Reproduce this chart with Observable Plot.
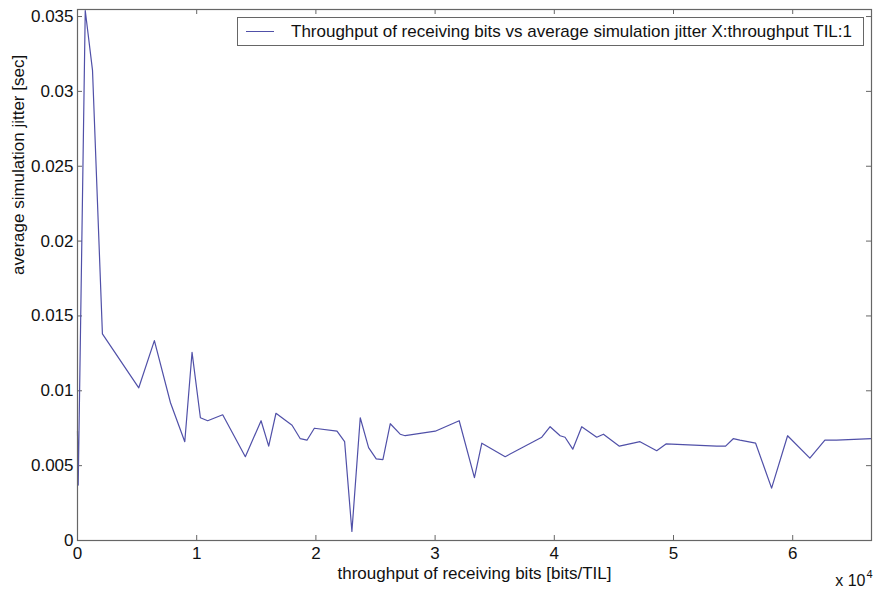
<!DOCTYPE html>
<html>
<head>
<meta charset="utf-8">
<script src="https://cdn.jsdelivr.net/npm/d3@7"></script>
<script src="https://cdn.jsdelivr.net/npm/@observablehq/plot@0.6"></script>
<style>
  html, body { margin: 0; padding: 0; background: #fff; }
  #wrap { position: relative; width: 875px; height: 595px; font-family: "Liberation Sans", Arial, Helvetica, sans-serif; }
  #legend { position: absolute; left: 237px; top: 17px; width: 627px; height: 29px; border: 1px solid #666; background: #fff; box-sizing: border-box; display: flex; align-items: center; font-size: 17px; color: #111; white-space: nowrap; }
  #legend .sw { display: inline-block; width: 28px; height: 0; border-top: 1.3px solid #5050a8; margin-left: 8px; margin-right: 17px; }
</style>
</head>
<body>
<div id="wrap"><div id="legend"><span class="sw"></span><span>Throughput of receiving bits vs average simulation jitter X:throughput TIL:1</span></div></div>
<script>
// Data
const throughput = [0, 60, 650, 1260, 2090, 5140, 6450, 7800, 9000, 9610, 10310, 10920, 12180, 14080, 15400, 16040, 16650, 18000, 18690, 19250, 19870, 21770, 22410, 23020, 23720, 24420, 25060, 25620, 26240, 27070, 27490, 30010, 32020, 33300, 33920, 35880, 38950, 39650, 40490, 40900, 41550, 42300, 43560, 44120, 45460, 47190, 48590, 49370, 53620, 54370, 55010, 55570, 56890, 58230, 59570, 61440, 62700, 63680, 66610];
const jitter = [0.0073, 0.0037, 0.0354, 0.0314, 0.0138, 0.0102, 0.01335, 0.0092, 0.0066, 0.01257, 0.0082, 0.0080, 0.0084, 0.0056, 0.0080, 0.0063, 0.0085, 0.0077, 0.0068, 0.0067, 0.0075, 0.0073, 0.0066, 0.0006, 0.0082, 0.0062, 0.00545, 0.0054, 0.0078, 0.0071, 0.0070, 0.0073, 0.0080, 0.0042, 0.0065, 0.0056, 0.0069, 0.0076, 0.0070, 0.0069, 0.0061, 0.0076, 0.0069, 0.0071, 0.0063, 0.0066, 0.0060, 0.00645, 0.0063, 0.0063, 0.0068, 0.0067, 0.0065, 0.0035, 0.0070, 0.0055, 0.0067, 0.0067, 0.0068];
const xTicks = [0, 10000, 20000, 30000, 40000, 50000, 60000];
const xTickLabels = ["0", "1", "2", "3", "4", "5", "6"];
const yTicks = [0, 0.005, 0.01, 0.015, 0.02, 0.025, 0.03, 0.035];
const yTickLabels = ["0", "0.005", "0.01", "0.015", "0.02", "0.025", "0.03", "0.035"];
const xLabel = "throughput of receiving bits [bits/TIL]";
const yLabel = "average simulation jitter [sec]";

const data = throughput.map((x, i) => ({x, y: jitter[i]}));

const W = 875, H = 595;
const mL = 77, mR = 4, mT = 9, mB = 55;
const pw = W - mL - mR, ph = H - mT - mB;
const tk = 5;
const axisColor = "#666";
const font = "Liberation Sans, Arial, Helvetica, sans-serif";

const chart = Plot.plot({
  width: W, height: H,
  marginLeft: mL, marginRight: mR, marginTop: mT, marginBottom: mB,
  style: {fontFamily: font, fontSize: "17px", color: "#111", background: "#fff"},
  x: {domain: [0, 66610], ticks: xTicks, tickFormat: (d, i) => xTickLabels[xTicks.indexOf(d)]},
  y: {domain: [0, 0.03547], ticks: yTicks, tickFormat: d => yTickLabels[yTicks.indexOf(d)]},
  marks: [
    Plot.axisX({ticks: xTicks, tickSize: 0, tickPadding: 6, label: null, tickFormat: d => xTickLabels[xTicks.indexOf(d)], fontSize: 17}),
    Plot.axisY({ticks: yTicks, tickSize: 0, tickPadding: 4, label: null, tickFormat: d => yTickLabels[yTicks.indexOf(d)], fontSize: 17}),
    // inward ticks on all four sides (MATLAB box style)
    Plot.tickX(xTicks, {x: d => d, insetTop: ph - tk, stroke: axisColor}),
    Plot.tickX(xTicks, {x: d => d, insetBottom: ph - tk, stroke: axisColor}),
    Plot.tickY(yTicks, {y: d => d, insetRight: pw - tk, stroke: axisColor}),
    Plot.tickY(yTicks, {y: d => d, insetLeft: pw - tk, stroke: axisColor}),
    Plot.line(data, {x: "x", y: "y", stroke: "#5050a8", strokeWidth: 1.2}),
    Plot.frame({stroke: axisColor, strokeWidth: 1.2}),
    Plot.text([xLabel], {text: d => d, frameAnchor: "bottom", dy: 38, fontSize: 17, fill: "#111"}),
    Plot.text([yLabel], {text: d => d, frameAnchor: "left", dx: -59, rotate: -90, fontSize: 17, fill: "#111"}),
    Plot.text(["x 10"], {text: d => d, frameAnchor: "bottom-right", dx: -6, dy: 45, textAnchor: "end", fontSize: 16, fill: "#111"}),
    Plot.text(["4"], {text: d => d, frameAnchor: "bottom-right", dx: -2, dy: 37, textAnchor: "middle", fontSize: 11, fill: "#111"})
  ]
});
document.getElementById("wrap").prepend(chart);
chart.style.display = "block";
</script>
</body>
</html>
